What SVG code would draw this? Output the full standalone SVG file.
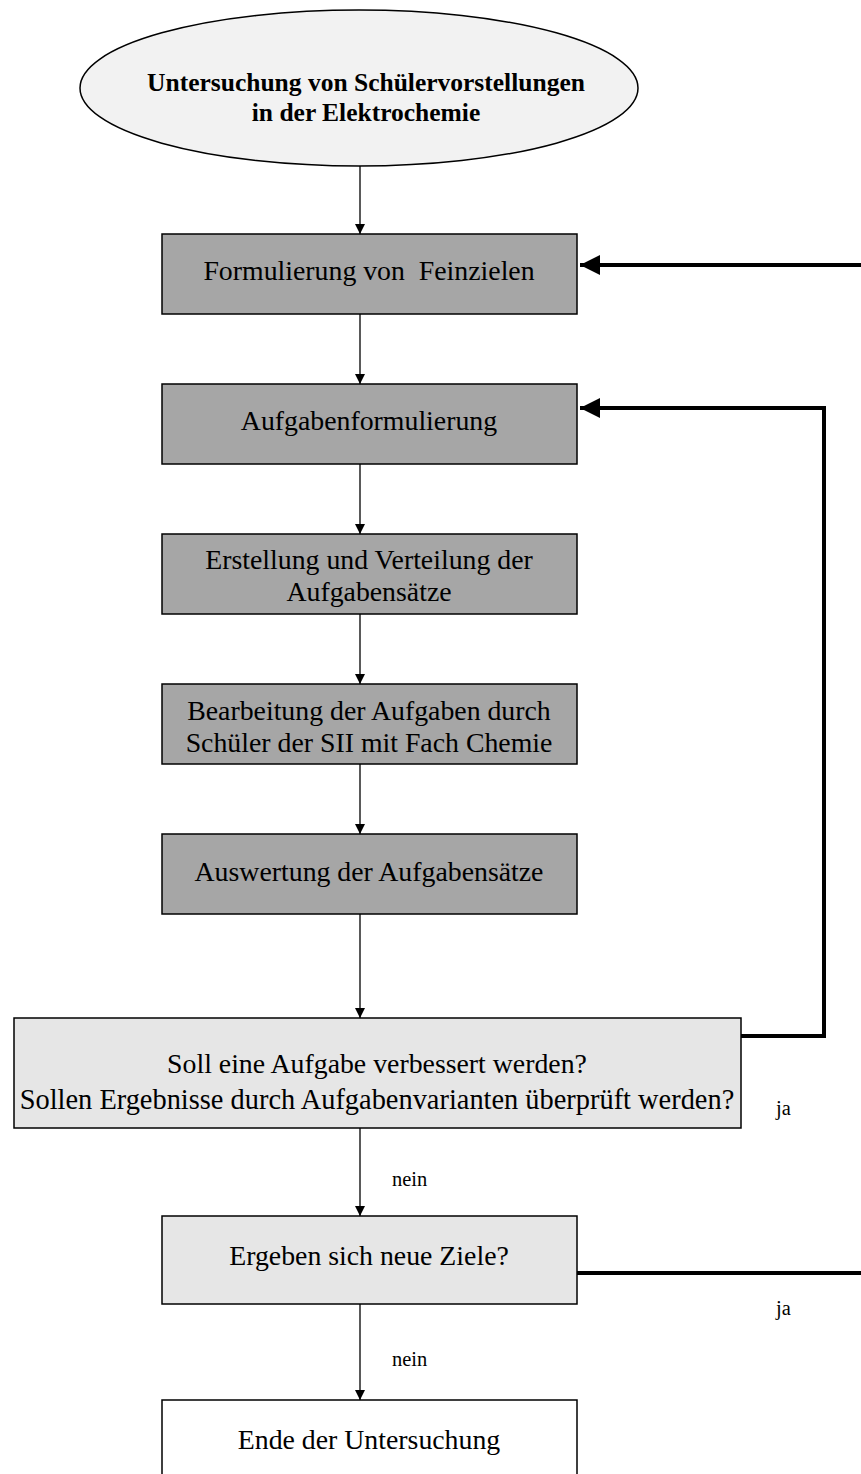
<svg xmlns="http://www.w3.org/2000/svg" width="861" height="1474" viewBox="0 0 861 1474">
<style>
text{font-family:"Liberation Serif","Times New Roman",serif;font-size:27.8px;fill:#000;text-anchor:middle}
.b{font-weight:bold;font-size:25.5px}
.dark{fill:#a6a6a6;stroke:#000;stroke-width:1.5}
.light{fill:#e6e6e6;stroke:#000;stroke-width:1.5}
.white{fill:#fff;stroke:#000;stroke-width:1.5}
.thin{stroke:#000;stroke-width:1.3;fill:none}
.thick{stroke:#000;stroke-width:4;fill:none}
.lbl{text-anchor:start;font-size:20.5px}
</style>
<defs>
<marker id="a" viewBox="0 0 10 10" refX="10" refY="5" markerWidth="10" markerHeight="10" markerUnits="userSpaceOnUse" orient="auto"><path d="M0,0L10,5L0,10z" fill="#000"/></marker>
<marker id="t" viewBox="0 0 10 10" refX="10" refY="5" markerWidth="5" markerHeight="5" orient="auto"><path d="M0,0L10,5L0,10z" fill="#000"/></marker>
</defs>
<g id="connectors">
<path class="thin" d="M360,166V234" marker-end="url(#a)"/>
<path class="thin" d="M360,314V384" marker-end="url(#a)"/>
<path class="thin" d="M360,464V534" marker-end="url(#a)"/>
<path class="thin" d="M360,614V684" marker-end="url(#a)"/>
<path class="thin" d="M360,764V834" marker-end="url(#a)"/>
<path class="thin" d="M360,914V1018" marker-end="url(#a)"/>
<path class="thin" d="M360,1128V1216" marker-end="url(#a)"/>
<path class="thin" d="M360,1304V1400" marker-end="url(#a)"/>
<path class="thick" d="M861,265H580" marker-end="url(#t)"/>
<path class="thick" d="M741,1036H824V408H580" marker-end="url(#t)"/>
<path class="thick" d="M577,1273H861"/>
<text class="lbl" x="776" y="1115">ja</text>
<text class="lbl" x="776" y="1315">ja</text>
<text class="lbl" x="392" y="1186">nein</text>
<text class="lbl" x="392" y="1366">nein</text>
</g>
<g id="start">
<ellipse cx="359" cy="88" rx="279" ry="78" fill="#f2f2f2" stroke="#000" stroke-width="1.5"/>
<text class="b" x="366" y="91">Untersuchung von Schülervorstellungen</text>
<text class="b" x="366" y="121">in der Elektrochemie</text>
</g>
<g id="n1">
<rect class="dark" x="162" y="234" width="415" height="80"/>
<text x="369" y="280" xml:space="preserve">Formulierung von  Feinzielen</text>
</g>
<g id="n2">
<rect class="dark" x="162" y="384" width="415" height="80"/>
<text x="369" y="430">Aufgabenformulierung</text>
</g>
<g id="n3">
<rect class="dark" x="162" y="534" width="415" height="80"/>
<text x="369" y="569">Erstellung und Verteilung der</text>
<text x="369" y="601">Aufgabensätze</text>
</g>
<g id="n4">
<rect class="dark" x="162" y="684" width="415" height="80"/>
<text x="369" y="720">Bearbeitung der Aufgaben durch</text>
<text x="369" y="752">Schüler der SII mit Fach Chemie</text>
</g>
<g id="n5">
<rect class="dark" x="162" y="834" width="415" height="80"/>
<text x="369" y="881">Auswertung der Aufgabensätze</text>
</g>
<g id="n6">
<rect class="light" x="14" y="1018" width="727" height="110"/>
<text x="377" y="1073">Soll eine Aufgabe verbessert werden?</text>
<text x="377" y="1109" style="font-size:28.4px">Sollen Ergebnisse durch Aufgabenvarianten überprüft werden?</text>
</g>
<g id="n7">
<rect class="light" x="162" y="1216" width="415" height="88"/>
<text x="369" y="1265">Ergeben sich neue Ziele?</text>
</g>
<g id="n8">
<path class="white" d="M162,1474V1400H577V1474"/>
<text x="369" y="1449">Ende der Untersuchung</text>
</g>
</svg>
